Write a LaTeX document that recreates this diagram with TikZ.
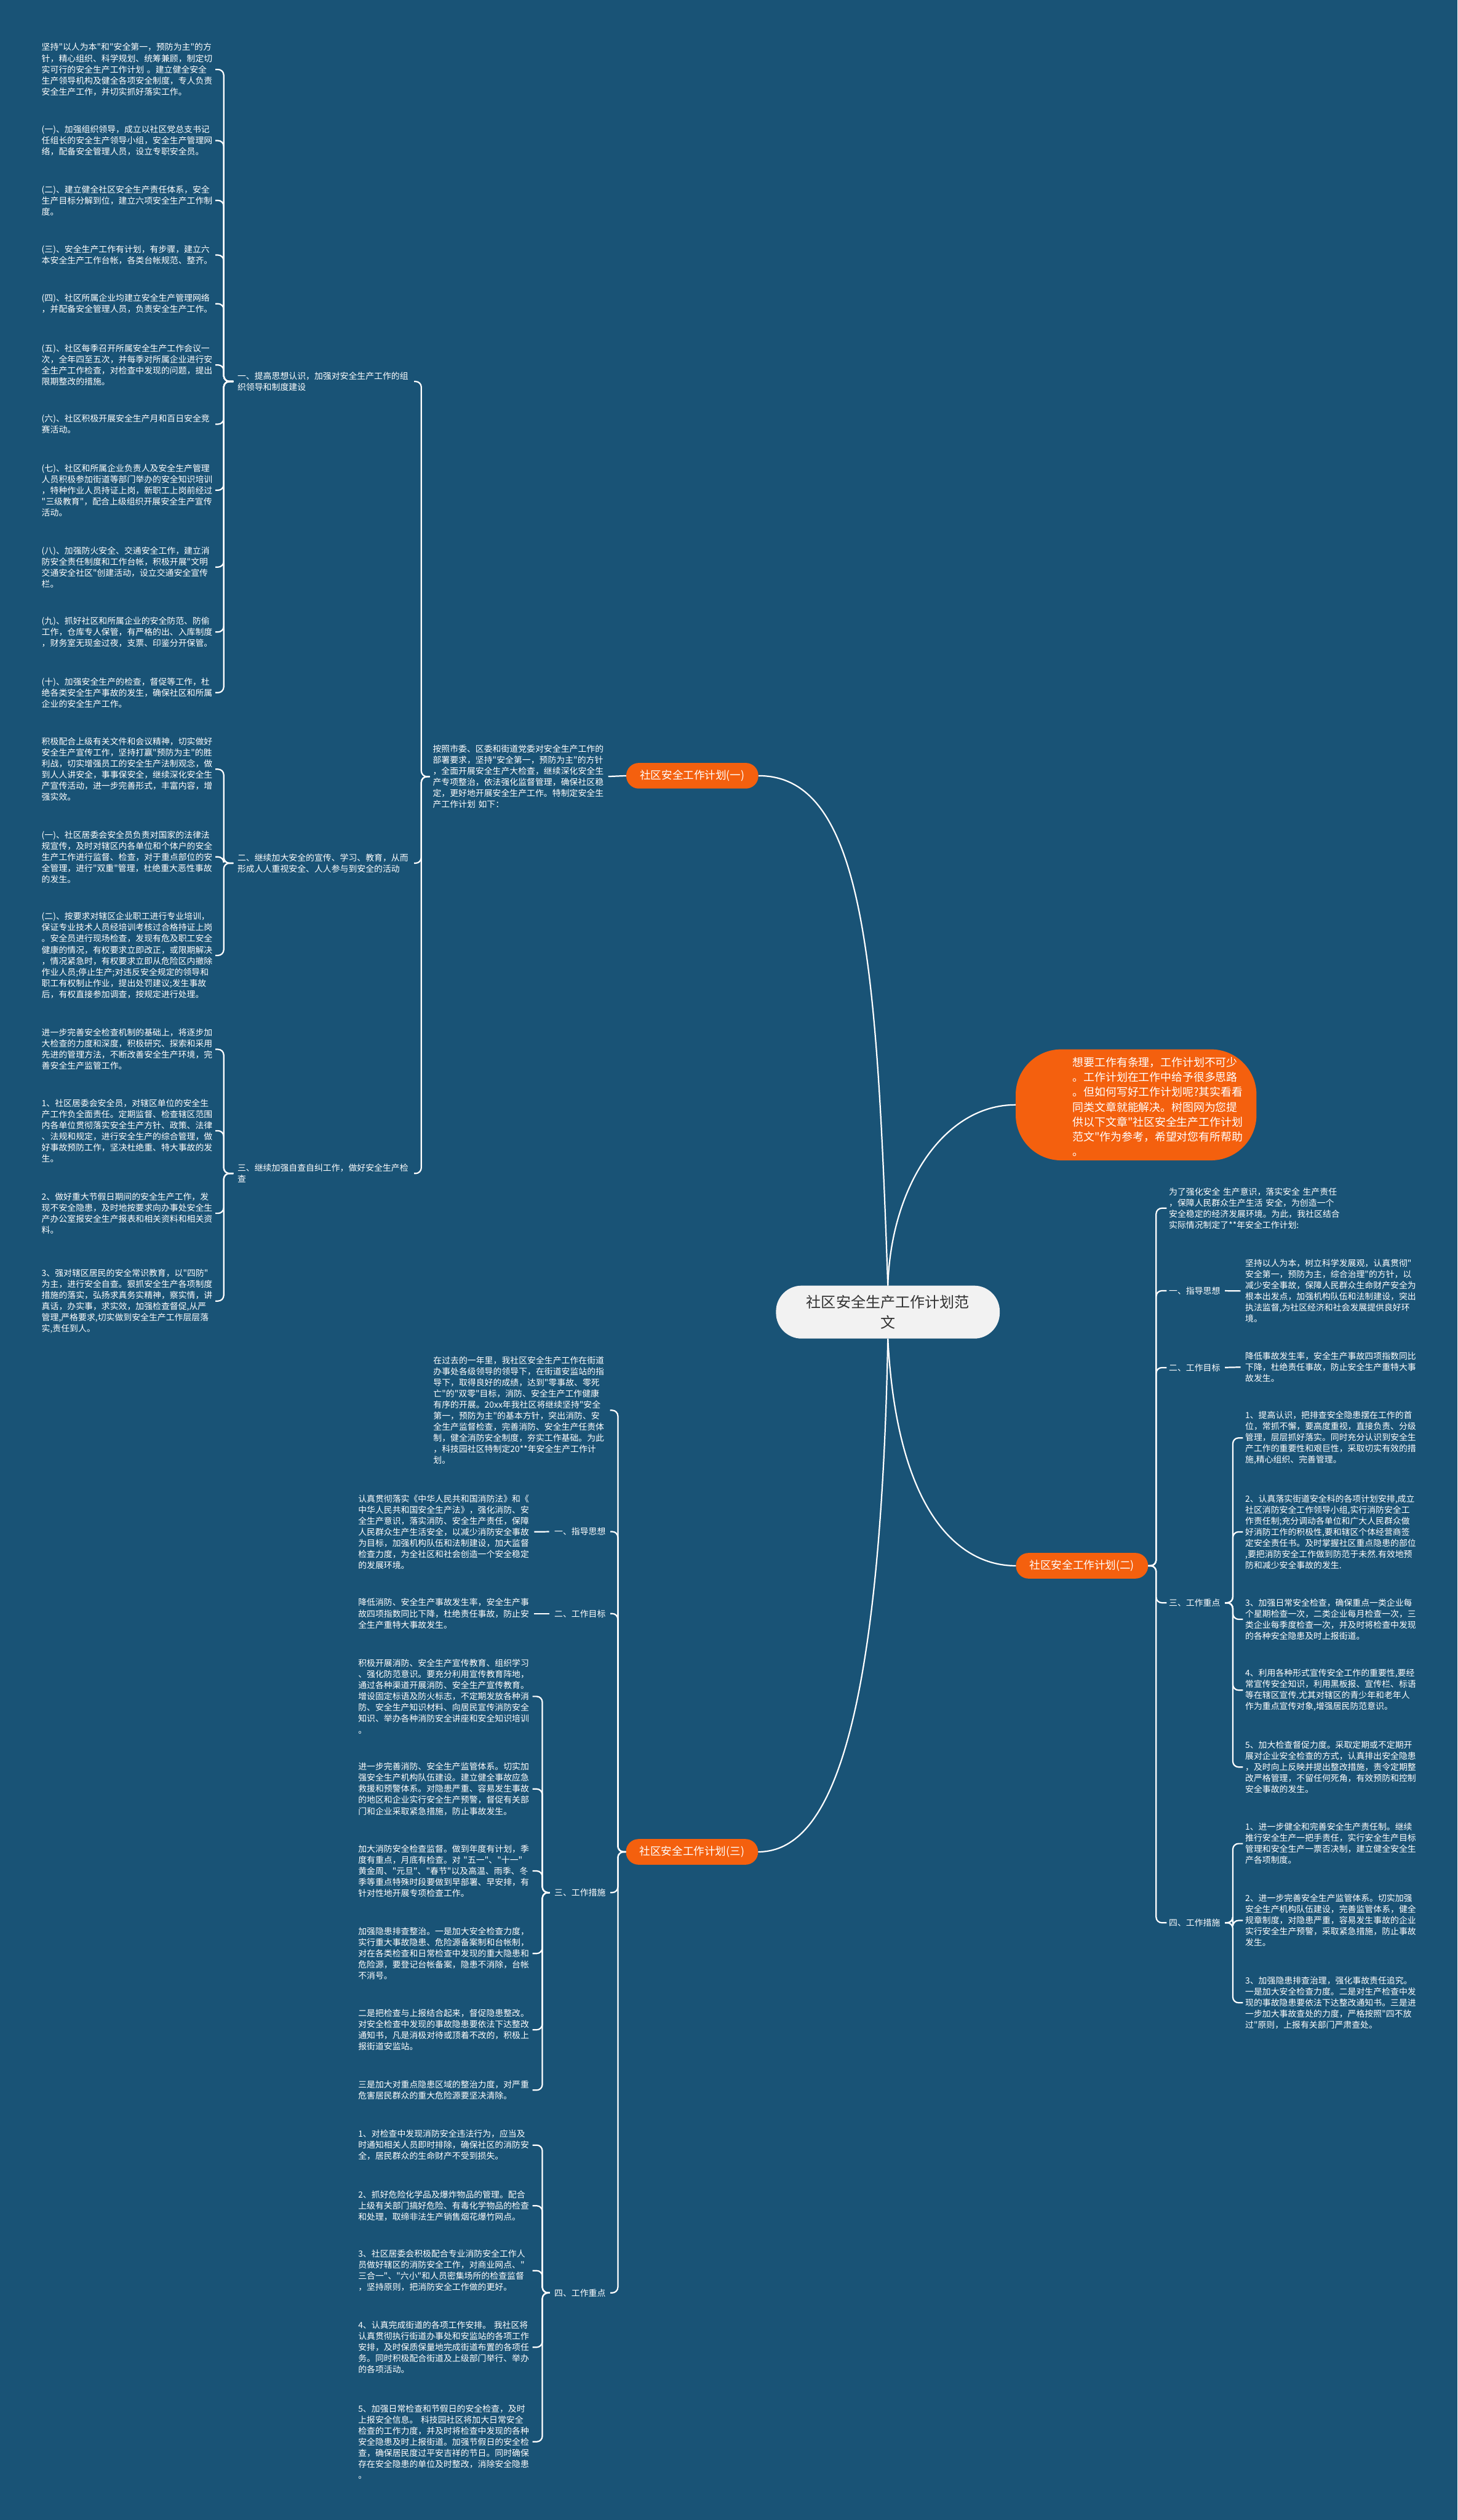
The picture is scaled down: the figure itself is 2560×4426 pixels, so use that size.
\documentclass[tikz,border=0pt]{standalone}
\usepackage{fontspec}
\setmainfont{Noto Sans CJK SC}[Ligatures=TeXOff]
\definecolor{bg}{RGB}{25,83,118}
\definecolor{org}{RGB}{244,96,14}
\definecolor{rootfill}{RGB}{242,242,242}
\definecolor{roottext}{RGB}{51,51,51}
\tikzset{
  conn/.style={draw=white, line width=2.4pt, rounded corners=10pt},
  para/.style={text=white, font=\fontsize{15}{19.5}\selectfont, align=left, text width=302pt, inner sep=0pt, anchor=west},
  lblw/.style={text=white, font=\fontsize{15}{19.5}\selectfont, align=left, inner sep=0pt, anchor=west},
  lble/.style={text=white, font=\fontsize{15}{19.5}\selectfont, align=right, inner sep=0pt, anchor=east},
  pill/.style={fill=org, text=white, rounded corners=22pt, minimum width=232pt, minimum height=45pt, inner sep=0pt, font=\fontsize{19}{22}\selectfont},
}
\begin{document}
\begin{tikzpicture}[x=1pt,y=-1pt]
\fill[bg] (0,0) rectangle (2560,4426);
\useasboundingbox (0,0) rectangle (2560,4426);

% root and bubble
\node[fill=rootfill, rounded corners=45pt, minimum width=393pt, minimum height=93pt, inner sep=0pt, text=roottext, font=\fontsize{26}{35}\selectfont, align=center] (root) at (1559.5,2304.5) {社区安全生产工作计划范\\文};
\node[fill=org, rounded corners=80pt, minimum width=423pt, minimum height=195pt, inner sep=0pt] (bub) at (1995.5,1940.5) {};
\node[text=white, font=\fontsize{19.3}{26}\selectfont, align=left, anchor=west, inner sep=0pt] (bubtxt) at (1884,1944) {想要工作有条理，工作计划不可少\\。工作计划在工作中给予很多思路\\。但如何写好工作计划呢?其实看看\\同类文章就能解决。树图网为您提\\供以下文章"社区安全生产工作计划\\范文"作为参考，希望对您有所帮助\\。};

% branch pills
\node[pill] (pill1) at (1216,1362.5) {社区安全工作计划(一)};
\node[pill] (pill2) at (1900.5,2750) {社区安全工作计划(二)};
\node[pill] (pill3) at (1215.5,3252.5) {社区安全工作计划(三)};

% ---------- branch (一) ----------
\node[para] (intro1) at (760,1364) {按照市委、区委和街道党委对安全生产工作的\\部署要求，坚持"安全第一，预防为主"的方针\\，全面开展安全生产大检查，继续深化安全生\\产专项整治，依法强化监督管理，确保社区稳\\定，更好地开展安全生产工作。特制定安全生\\产工作计划 如下：};
\node[para] (lab1) at (417,670) {一、提高思想认识，加强对安全生产工作的组\\织领导和制度建设};
\node[para] (lab2) at (417,1516) {二、继续加大安全的宣传、学习、教育，从而\\形成人人重视安全、人人参与到安全的活动};
\node[para] (lab3) at (417,2061) {三、继续加强自查自纠工作，做好安全生产检\\查};

\node[para] (a1) at (73,122) {坚持"以人为本"和"安全第一，预防为主"的方\\针，精心组织、科学规划、统筹兼顾，制定切\\实可行的安全生产工作计划 。建立健全安全\\生产领导机构及健全各项安全制度，专人负责\\安全生产工作，并切实抓好落实工作。};
\node[para] (a2) at (73,247) {(一)、加强组织领导，成立以社区党总支书记\\任组长的安全生产领导小组，安全生产管理网\\络，配备安全管理人员，设立专职安全员。};
\node[para] (a3) at (73,352) {(二)、建立健全社区安全生产责任体系，安全\\生产目标分解到位，建立六项安全生产工作制\\度。};
\node[para] (a4) at (73,448) {(三)、安全生产工作有计划，有步骤，建立六\\本安全生产工作台帐，各类台帐规范、整齐。};
\node[para] (a5) at (73,533.5) {(四)、社区所属企业均建立安全生产管理网络\\，并配备安全管理人员，负责安全生产工作。};
\node[para] (a6) at (73,641) {(五)、社区每季召开所属安全生产工作会议一\\次，全年四至五次，并每季对所属企业进行安\\全生产工作检查，对检查中发现的问题，提出\\限期整改的措施。};
\node[para] (a7) at (73,745) {(六)、社区积极开展安全生产月和百日安全竞\\赛活动。};
\node[para] (a8) at (73,861) {(七)、社区和所属企业负责人及安全生产管理\\人员积极参加街道等部门举办的安全知识培训\\，特种作业人员持证上岗，新职工上岗前经过\\"三级教育"，配合上级组织开展安全生产宣传\\活动。};
\node[para] (a9) at (73,996) {(八)、加强防火安全、交通安全工作，建立消\\防安全责任制度和工作台帐，积极开展"文明\\交通安全社区"创建活动，设立交通安全宣传\\栏。};
\node[para] (a10) at (73,1110) {(九)、抓好社区和所属企业的安全防范、防偷\\工作，仓库专人保管，有严格的出、入库制度\\，财务室无现金过夜，支票、印鉴分开保管。};
\node[para] (a11) at (73,1216.5) {(十)、加强安全生产的检查，督促等工作，杜\\绝各类安全生产事故的发生，确保社区和所属\\企业的安全生产工作。};
\node[para] (a12) at (73,1351) {积极配合上级有关文件和会议精神，切实做好\\安全生产宣传工作，坚持打赢"预防为主"的胜\\利战，切实增强员工的安全生产法制观念，做\\到人人讲安全，事事保安全，继续深化安全生\\产宣传活动，进一步完善形式，丰富内容，增\\强实效。};
\node[para] (a13) at (73,1505) {(一)、社区居委会安全员负责对国家的法律法\\规宣传，及时对辖区内各单位和个体户的安全\\生产工作进行监督、检查，对于重点部位的安\\全管理，进行"双重"管理，杜绝重大恶性事故\\的发生。};
\node[para] (a14) at (73,1678) {(二)、按要求对辖区企业职工进行专业培训，\\保证专业技术人员经培训考核过合格持证上岗\\。安全员进行现场检查，发现有危及职工安全\\健康的情况，有权要求立即改正，或限期解决\\，情况紧急时，有权要求立即从危险区内撤除\\作业人员;停止生产;对违反安全规定的领导和\\职工有权制止作业，提出处罚建议;发生事故\\后，有权直接参加调查，按规定进行处理。};
\node[para] (a15) at (73,1843) {进一步完善安全检查机制的基础上，将逐步加\\大检查的力度和深度，积极研究、探索和采用\\先进的管理方法，不断改善安全生产环境，完\\善安全生产监管工作。};
\node[para] (a16) at (73,1986) {1、社区居委会安全员，对辖区单位的安全生\\产工作负全面责任。定期监督、检查辖区范围\\内各单位贯彻落实安全生产方针、政策、法律\\、法规和规定，进行安全生产的综合管理，做\\好事故预防工作，坚决杜绝重、特大事故的发\\生。};
\node[para] (a17) at (73,2131) {2、做好重大节假日期间的安全生产工作，发\\现不安全隐患，及时地按要求向办事处安全生\\产办公室报安全生产报表和相关资料和相关资\\料。};
\node[para] (a18) at (73,2285) {3、强对辖区居民的安全常识教育，以"四防"\\为主，进行安全自查。狠抓安全生产各项制度\\措施的落实，弘扬求真务实精神，察实情，讲\\真话，办实事，求实效，加强检查督促,从严\\管理,严格要求,切实做到安全生产工作层层落\\实,责任到人。};

% ---------- branch (二) ----------
\node[para] (intro2) at (2053,2122) {为了强化安全 生产意识，落实安全 生产责任\\，保障人民群众生产生活 安全，为创造一个\\安全稳定的经济发展环境。为此，我社区结合\\实际情况制定了**年安全工作计划:};
\node[lblw] (labR1) at (2053,2267) {一、指导思想};
\node[lblw] (labR2) at (2053,2402) {二、工作目标};
\node[lblw] (labR3) at (2053,2815) {三、工作重点};
\node[lblw] (labR4) at (2053,3377) {四、工作措施};
\node[para] (tR1) at (2187,2267.5) {坚持以人为本，树立科学发展观，认真贯彻"\\安全第一，预防为主，综合治理"的方针，以\\减少安全事故，保障人民群众生命财产安全为\\根本出发点，加强机构队伍和法制建设，突出\\执法监督,为社区经济和社会发展提供良好环\\境。};
\node[para] (tR2) at (2187,2401) {降低事故发生率，安全生产事故四项指数同比\\下降，杜绝责任事故，防止安全生产重特大事\\故发生。};
\node[para] (c1) at (2187,2525.5) {1、提高认识，把排查安全隐患摆在工作的首\\位，常抓不懈，要高度重视，直接负责、分级\\管理，层层抓好落实。同时充分认识到安全生\\产工作的重要性和艰巨性，采取切实有效的措\\施,精心组织、完善管理。};
\node[para] (c2) at (2187,2690.5) {2、认真落实街道安全科的各项计划安排,成立\\社区消防安全工作领导小组,实行消防安全工\\作责任制;充分调动各单位和广大人民群众做\\好消防工作的积极性,要和辖区个体经营商签\\定安全责任书。及时掌握社区重点隐患的部位\\,要把消防安全工作做到防范于未然.有效地预\\防和减少安全事故的发生.};
\node[para] (c3) at (2187,2844) {3、加强日常安全检查，确保重点一类企业每\\个星期检查一次，二类企业每月检查一次，三\\类企业每季度检查一次，并及时将检查中发现\\的各种安全隐患及时上报街道。};
\node[para] (c4) at (2187,2968.5) {4、利用各种形式宣传安全工作的重要性,要经\\常宣传安全知识，利用黑板报、宣传栏、标语\\等在辖区宣传.尤其对辖区的青少年和老年人\\作为重点宣传对象,增强居民防范意识。};
\node[para] (c5) at (2187,3103.5) {5、加大检查督促力度。采取定期或不定期开\\展对企业安全检查的方式，认真排出安全隐患\\，及时向上反映并提出整改措施，责令定期整\\改严格管理，不留任何死角，有效预防和控制\\安全事故的发生。};
\node[para] (d1) at (2187,3238) {1、进一步健全和完善安全生产责任制。继续\\推行安全生产一把手责任，实行安全生产目标\\管理和安全生产一票否决制，建立健全安全生\\产各项制度。};
\node[para] (d2) at (2187,3373) {2、进一步完善安全生产监管体系。切实加强\\安全生产机构队伍建设，完善监管体系，健全\\规章制度，对隐患严重，容易发生事故的企业\\实行安全生产预警，采取紧急措施，防止事故\\发生。};
\node[para] (d3) at (2187,3517.5) {3、加强隐患排查治理，强化事故责任追究。\\一是加大安全检查力度。二是对生产检查中发\\现的事故隐患要依法下达整改通知书。三是进\\一步加大事故查处的力度，严格按照"四不放\\过"原则，上报有关部门严肃查处。};

% ---------- branch (三) ----------
\node[para] (intro3) at (761,2477) {在过去的一年里，我社区安全生产工作在街道\\办事处各级领导的领导下，在街道安监站的指\\导下，取得良好的成绩，达到"零事故、零死\\亡"的"双零"目标，消防、安全生产工作健康\\有序的开展。20xx年我社区将继续坚持"安全\\第一，预防为主"的基本方针，突出消防、安\\全生产监督检查，完善消防、安全生产任责体\\制，健全消防安全制度，夯实工作基础。为此\\，科技园社区特制定20**年安全生产工作计\\划。};
\node[lble] (labL1) at (1064,2690) {一、指导思想};
\node[lble] (labL2) at (1064,2834) {二、工作目标};
\node[lble] (labL3) at (1064,3324) {三、工作措施};
\node[lble] (labL4) at (1064,4027) {四、工作重点};
\node[para] (t31) at (629,2690.5) {认真贯彻落实《中华人民共和国消防法》和《\\中华人民共和国安全生产法》，强化消防、安\\全生产意识，落实消防、安全生产责任，保障\\人民群众生产生活安全，以减少消防安全事故\\为目标，加强机构队伍和法制建设，加大监督\\检查力度，为全社区和社会创造一个安全稳定\\的发展环境。};
\node[para] (t32) at (629,2834) {降低消防、安全生产事故发生率，安全生产事\\故四项指数同比下降，杜绝责任事故，防止安\\全生产重特大事故发生。};
\node[para] (e1) at (629,2979.5) {积极开展消防、安全生产宣传教育、组织学习\\、强化防范意识。要充分利用宣传教育阵地，\\通过各种渠道开展消防、安全生产宣传教育。\\增设固定标语及防火标志，不定期发放各种消\\防、安全生产知识材料、向居民宣传消防安全\\知识、举办各种消防安全讲座和安全知识培训\\。};
\node[para] (e2) at (629,3142) {进一步完善消防、安全生产监管体系。切实加\\强安全生产机构队伍建设。建立健全事故应急\\救援和预警体系。对隐患严重、容易发生事故\\的地区和企业实行安全生产预警，督促有关部\\门和企业采取紧急措施，防止事故发生。};
\node[para] (e3) at (629,3286) {加大消防安全检查监督。做到年度有计划，季\\度有重点，月底有检查。对 "五一"、"十一"\\黄金周、"元旦"、"春节"以及高温、雨季、冬\\季等重点特殊时段要做到早部署、早安排，有\\针对性地开展专项检查工作。};
\node[para] (e4) at (629,3431) {加强隐患排查整治。一是加大安全检查力度，\\实行重大事故隐患、危险源备案制和台帐制，\\对在各类检查和日常检查中发现的重大隐患和\\危险源，要登记台帐备案，隐患不消除，台帐\\不消号。};
\node[para] (e5) at (629,3565) {二是把检查与上报结合起来，督促隐患整改。\\对安全检查中发现的事故隐患要依法下达整改\\通知书，凡是消极对待或顶着不改的，积极上\\报街道安监站。};
\node[para] (e6) at (629,3671) {三是加大对重点隐患区域的整治力度，对严重\\危害居民群众的重大危险源要坚决清除。};
\node[para] (f1) at (629,3767.5) {1、对检查中发现消防安全违法行为，应当及\\时通知相关人员即时排除，确保社区的消防安\\全，居民群众的生命财产不受到损失。};
\node[para] (f2) at (629,3874) {2、抓好危险化学品及爆炸物品的管理。配合\\上级有关部门搞好危险、有毒化学物品的检查\\和处理，取缔非法生产销售烟花爆竹网点。};
\node[para] (f3) at (629,3988) {3、社区居委会积极配合专业消防安全工作人\\员做好辖区的消防安全工作，对商业网点、"\\三合一"、"六小"和人员密集场所的检查监督\\，坚持原则，把消防安全工作做的更好。};
\node[para] (f4) at (629,4122.5) {4、认真完成街道的各项工作安排。 我社区将\\认真贯彻执行街道办事处和安监站的各项工作\\安排，及时保质保量地完成街道布置的各项任\\务。同时积极配合街道及上级部门举行、举办\\的各项活动。};
\node[para] (f5) at (629,4288.5) {5、加强日常检查和节假日的安全检查，及时\\上报安全信息。 科技园社区将加大日常安全\\检查的工作力度，并及时将检查中发现的各种\\安全隐患及时上报街道。加强节假日的安全检\\查，确保居民度过平安吉祥的节日。同时确保\\存在安全隐患的单位及时整改，消除安全隐患\\。};

% ---------- connectors ----------
\draw[conn] (root.north) .. controls (1540,1700) and (1520,1362) .. (pill1.east);
\draw[conn] (root.north) .. controls (1565,2080) and (1660,1940) .. (bub.west);
\draw[conn] (root.south) .. controls (1575,2650) and (1680,2750) .. (pill2.west);
\draw[conn] (root.south) .. controls (1545,3100) and (1440,3252) .. (pill3.east);

% (一)
\draw[conn, shorten >=6pt] (pill1.west) -- (intro1.east);
\foreach \n in {lab1,lab2,lab3}
  \draw[conn, shorten <=5pt, shorten >=8pt] (intro1.west) -- ++(-20,0) |- (\n.east);
\foreach \n in {a1,a2,a3,a4,a5,a6,a7,a8,a9,a10,a11}
  \draw[conn, shorten <=7pt, shorten >=3pt] (lab1.west) -- ++(-24,0) |- (\n.east);
\foreach \n in {a12,a13,a14}
  \draw[conn, shorten <=7pt, shorten >=3pt] (lab2.west) -- ++(-24,0) |- (\n.east);
\foreach \n in {a15,a16,a17,a18}
  \draw[conn, shorten <=7pt, shorten >=3pt] (lab3.west) -- ++(-24,0) |- (\n.east);

% (二)
\foreach \n in {intro2,labR1,labR2,labR3,labR4}
  \draw[conn, shorten >=4pt] (pill2.east) -- ++(14,0) |- (\n.west);
\draw[conn, shorten <=8pt, shorten >=8pt] (labR1.east) -- (tR1.west);
\draw[conn, shorten <=8pt, shorten >=8pt] (labR2.east) -- (tR2.west);
\foreach \n in {c1,c2,c3,c4,c5}
  \draw[conn, shorten <=8pt, shorten >=4pt] (labR3.east) -- ++(22,0) |- (\n.west);
\foreach \n in {d1,d2,d3}
  \draw[conn, shorten <=8pt, shorten >=4pt] (labR4.east) -- ++(22,0) |- (\n.west);

% (三)
\foreach \n in {intro3,labL1,labL2,labL3,labL4}
  \draw[conn, shorten >=8pt] (pill3.west) -- ++(-14,0) |- (\n.east);
\draw[conn, shorten <=9pt, shorten >=7pt] (labL1.west) -- (t31.east);
\draw[conn, shorten <=9pt, shorten >=7pt] (labL2.west) -- (t32.east);
\foreach \n in {e1,e2,e3,e4,e5,e6}
  \draw[conn, shorten <=8pt, shorten >=4pt] (labL3.west) -- ++(-21,0) |- (\n.east);
\foreach \n in {f1,f2,f3,f4,f5}
  \draw[conn, shorten <=8pt, shorten >=4pt] (labL4.west) -- ++(-21,0) |- (\n.east);
\end{tikzpicture}
\end{document}
